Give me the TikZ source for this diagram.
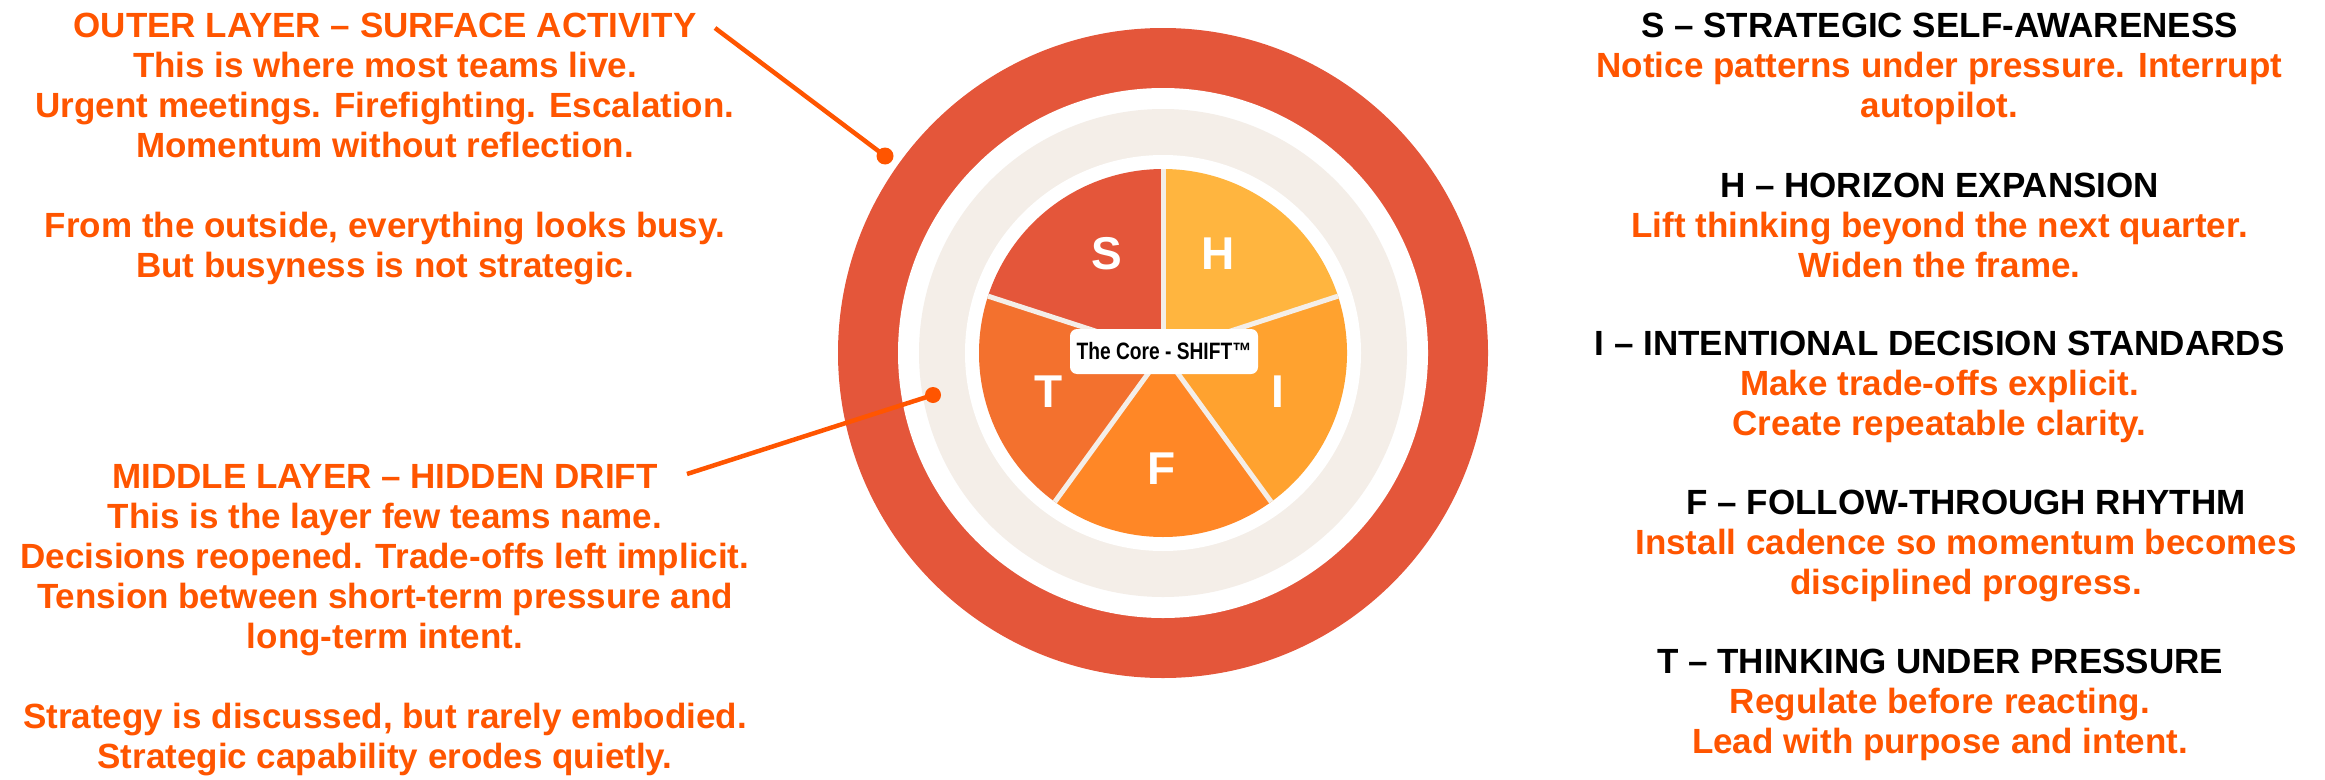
\documentclass[tikz,border=0pt]{standalone}
\usepackage{fontspec}
\setmainfont{Liberation Sans}
\definecolor{ringred}{HTML}{E4563A}
\definecolor{beige}{HTML}{F4EEE8}
\definecolor{sliceS}{HTML}{E4563A}
\definecolor{sliceH}{HTML}{FFB53F}
\definecolor{sliceI}{HTML}{FFA22F}
\definecolor{sliceF}{HTML}{FF8726}
\definecolor{sliceT}{HTML}{F3712E}
\definecolor{txtorange}{HTML}{FF5500}
\definecolor{leadorange}{HTML}{FF5500}
\begin{document}
\begin{tikzpicture}[x=1pt,y=1pt,
  txt/.style={align=center, inner sep=0pt, anchor=north,
    font=\bfseries\fontsize{35}{40}\selectfont, text=txtorange},
  letter/.style={text=white, inner sep=0pt,
    font=\bfseries\fontsize{46}{46}\selectfont},
  corebox/.style={fill=white, rounded corners=7pt, minimum width=188pt,
    minimum height=45pt, inner sep=0pt,
    font=\bfseries\fontsize{23.7}{24}\selectfont, text=black},
  leader/.style={draw=leadorange, line width=4.5pt},
  leaddot/.style={circle, fill=leadorange, minimum size=17pt, inner sep=0pt},
  divider/.style={draw=beige, line width=5pt}]
\useasboundingbox (0,0) rectangle (2325,-779);

% concentric layers
\coordinate (C) at (1163,-353);
\fill[ringred] (C) circle[radius=325];
\fill[white] (C) circle[radius=265];
\fill[beige] (C) circle[radius=244];
\fill[white] (C) circle[radius=198];

% SHIFT pie
\fill[sliceS] (C) -- ++(90:184) arc[start angle=90, end angle=162, radius=184] -- cycle;
\fill[sliceH] (C) -- ++(18:184) arc[start angle=18, end angle=90, radius=184] -- cycle;
\fill[sliceI] (C) -- ++(-54:184) arc[start angle=-54, end angle=18, radius=184] -- cycle;
\fill[sliceF] (C) -- ++(-126:184) arc[start angle=-126, end angle=-54, radius=184] -- cycle;
\fill[sliceT] (C) -- ++(162:184) arc[start angle=162, end angle=234, radius=184] -- cycle;
\foreach \a in {90,18,-54,-126,162} \draw[divider] (C) -- ++(\a:184);

\node[letter] (lS) at (1107,-254) {S};
\node[letter] (lH) at (1218,-254) {H};
\node[letter] (lI) at (1278,-392) {I};
\node[letter] (lF) at (1162,-469) {F};
\node[letter] (lT) at (1049,-392) {T};

\node[corebox] (core) at (1164,-351.5) {\scalebox{0.81}[1]{The Core - SHIFT™}};

% left descriptions
\node[txt] (outerTxt) at (385,-9.3) {\strut OUTER LAYER – SURFACE ACTIVITY\\
  This is where most teams live.\\
  Urgent meetings. Firefighting. Escalation.\\
  Momentum without reflection.\\[40pt]
  From the outside, everything looks busy.\\
  But busyness is not strategic.};

\node[txt] (middleTxt) at (385,-460) {\strut MIDDLE LAYER – HIDDEN DRIFT\\
  This is the layer few teams name.\\
  Decisions reopened. Trade-offs left implicit.\\
  Tension between short-term pressure and\\
  long-term intent.\\[40pt]
  Strategy is discussed, but rarely embodied.\\
  Strategic capability erodes quietly.};

% leaders
\coordinate (outerEnd) at (715,-28);
\coordinate (outerDotC) at (885,-156);
\draw[leader] (outerEnd) -- (outerDotC);
\node[leaddot] (outerDot) at (outerDotC) {};

\coordinate (middleEnd) at (687,-474);
\coordinate (middleDotC) at (933,-395);
\draw[leader] (middleEnd) -- (middleDotC);
\node[leaddot, minimum size=16pt] (middleDot) at (middleDotC) {};

% right descriptions
\node[txt] (sTxt) at (1939.5,-9) {\strut\textcolor{black}{S – STRATEGIC SELF-AWARENESS}\\
  Notice patterns under pressure. Interrupt\\
  autopilot.};
\node[txt] (hTxt) at (1939.5,-169) {\strut\textcolor{black}{H – HORIZON EXPANSION}\\
  Lift thinking beyond the next quarter.\\
  Widen the frame.};
\node[txt] (iTxt) at (1939.5,-327) {\strut\textcolor{black}{I – INTENTIONAL DECISION STANDARDS}\\
  Make trade-offs explicit.\\
  Create repeatable clarity.};
\node[txt] (fTxt) at (1966,-486) {\strut\textcolor{black}{F – FOLLOW-THROUGH RHYTHM}\\
  Install cadence so momentum becomes\\
  disciplined progress.};
\node[txt] (tTxt) at (1940,-645) {\strut\textcolor{black}{T – THINKING UNDER PRESSURE}\\
  Regulate before reacting.\\
  Lead with purpose and intent.};
\end{tikzpicture}
\end{document}
